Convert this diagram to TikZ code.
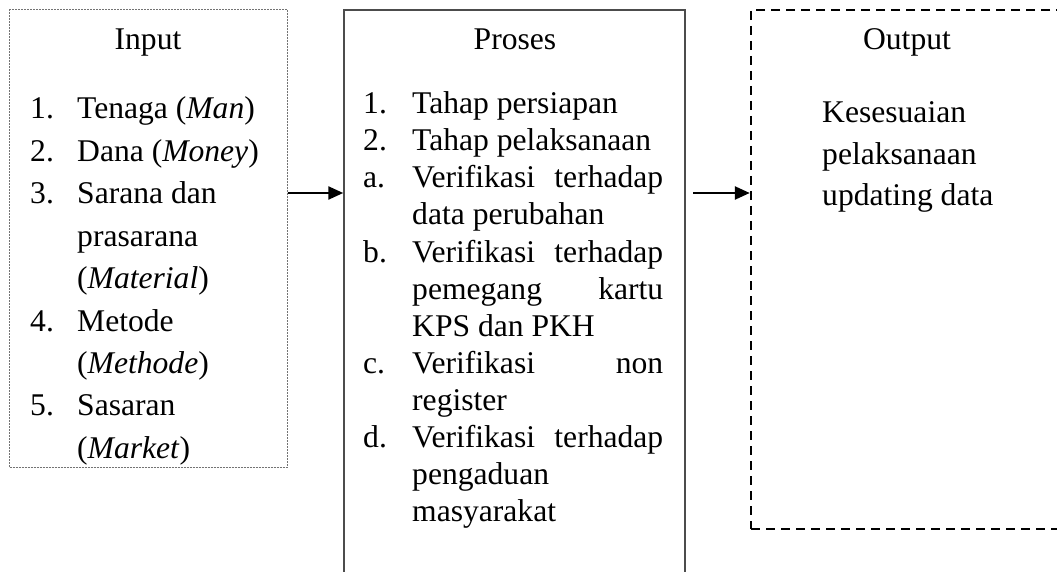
\documentclass[tikz,border=0pt]{standalone}
\usepackage{fontspec}
\setmainfont{Liberation Serif}
\usetikzlibrary{arrows.meta}
\newcommand{\jl}[1]{\makebox[251pt][s]{#1}}
\begin{document}
\begin{tikzpicture}[x=1pt,y=-1pt,
  txt/.style={anchor=base west,inner sep=0pt,font=\fontsize{31.6}{38}\selectfont},
  ttl/.style={anchor=base,inner sep=0pt,font=\fontsize{31.6}{38}\selectfont},
  frame/.style={rectangle,inner sep=0pt},
  inbox/.style={frame,draw=black!55,line width=1pt,dash pattern=on 2pt off 1pt},
  probox/.style={frame,draw=black!70,line width=1.5pt},
  outbox/.style={frame,draw=black,line width=2.4pt,dash pattern=on 9pt off 6pt},
  arr/.style={line width=2.4pt,-{Triangle[length=15pt,width=13pt]}}
]
\useasboundingbox (0,0) rectangle (1057,572);
\clip (0,0) rectangle (1057,572);
\fill[white] (0,0) rectangle (1057,572);

% boxes
\node[inbox,minimum width=277.5pt,minimum height=457pt] (input) at (148.25,238.5) {};
\node[probox,minimum width=341pt,minimum height=640pt] (proses) at (514.5,330) {};
\node[outbox,minimum width=340pt,minimum height=519pt] (output) at (921,269.5) {};

% connectors
\coordinate (a1) at (0,193);
\coordinate (s2) at (693,193);
\draw[arr] (input.east |- a1) -- (proses.west |- a1);
\draw[arr] (s2) -- (output.west |- s2);

% Input
\node[ttl] (tin) at (148,50) {Input};
\node[txt] (i1n) at (30,119) {1.};
\node[txt] (i1) at (77,119) {Tenaga (\textit{Man})};
\node[txt] (i2n) at (30,161.4) {2.};
\node[txt] (i2) at (77,161.4) {Dana (\textit{Money})};
\node[txt] (i3n) at (30,203.8) {3.};
\node[txt] (i3) at (77,203.8) {Sarana dan};
\node[txt] (i3b) at (77,246.2) {prasarana};
\node[txt] (i3c) at (77,288.6) {(\textit{Material})};
\node[txt] (i4n) at (30,331) {4.};
\node[txt] (i4) at (77,331) {Metode};
\node[txt] (i4b) at (77,373.4) {(\textit{Methode})};
\node[txt] (i5n) at (30,415.8) {5.};
\node[txt] (i5) at (77,415.8) {Sasaran};
\node[txt] (i5b) at (77,458.2) {(\textit{Market})};

% Proses
\node[ttl] (tpr) at (515,50) {Proses};
\node[txt] (p1n) at (363,114) {1.};
\node[txt] (p1) at (412,114) {Tahap persiapan};
\node[txt] (p2n) at (363,151) {2.};
\node[txt] (p2) at (412,151) {Tahap pelaksanaan};
\node[txt] (pan) at (363,188) {a.};
\node[txt] (pa) at (412,188) {\jl{Verifikasi terhadap}};
\node[txt] (pa2) at (412,225) {data perubahan};
\node[txt] (pbn) at (363,262) {b.};
\node[txt] (pb) at (412,262) {\jl{Verifikasi terhadap}};
\node[txt] (pb2) at (412,299) {\jl{pemegang kartu}};
\node[txt] (pb3) at (412,336) {KPS dan PKH};
\node[txt] (pcn) at (363,373) {c.};
\node[txt] (pc) at (412,373) {\jl{Verifikasi non}};
\node[txt] (pc2) at (412,410) {register};
\node[txt] (pdn) at (363,447) {d.};
\node[txt] (pd) at (412,447) {\jl{Verifikasi terhadap}};
\node[txt] (pd2) at (412,484) {pengaduan};
\node[txt] (pd3) at (412,521) {masyarakat};

% Output
\node[ttl] (tou) at (907,50) {Output};
\node[txt] (o1) at (822,123) {Kesesuaian};
\node[txt] (o2) at (822,164.5) {pelaksanaan};
\node[txt] (o3) at (822,206) {updating data};
\end{tikzpicture}
\end{document}
